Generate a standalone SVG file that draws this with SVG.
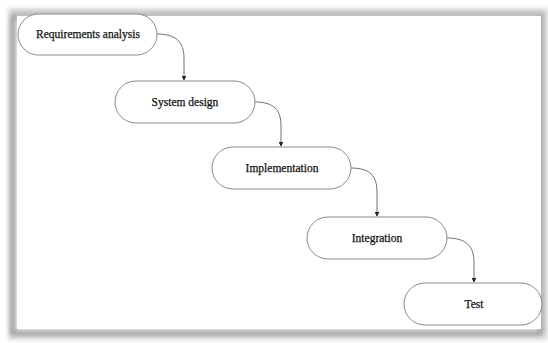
<svg xmlns="http://www.w3.org/2000/svg" width="548" height="343" viewBox="0 0 548 343">
<style>
.node rect{fill:#fff;stroke:#8a8a8a;stroke-width:1}
.node text{font-family:"Liberation Serif","Times New Roman",serif;font-size:11.5px;fill:#111;stroke:#111;stroke-width:0.25;text-anchor:middle;dominant-baseline:central}
.conn path{fill:none;stroke:#6e6e6e;stroke-width:1;marker-end:url(#arr)}
</style>
<defs>
<marker id="arr" viewBox="0 0 8 8" refX="7" refY="4" markerWidth="5" markerHeight="5" orient="auto" markerUnits="userSpaceOnUse">
<path d="M0,0 L8,4 L0,8 Z" fill="#222"/>
</marker>
<filter id="blur" x="-5%" y="-5%" width="110%" height="110%">
<feGaussianBlur stdDeviation="2"/>
</filter>
</defs>
<rect width="548" height="343" fill="#fff"/>
<g id="frame">
<rect x="11" y="11" width="534" height="326" fill="none" stroke="#dcdcdc" stroke-width="6" filter="url(#blur)"/>
<rect x="14" y="14" width="528" height="318" fill="none" stroke="#b0b0b0" stroke-width="4" filter="url(#blur)"/>
<rect x="12" y="18" width="528" height="316" fill="none" stroke="#9a9a9a" stroke-width="3" filter="url(#blur)"/>
<rect x="17" y="16" width="524" height="313" fill="#fff"/>
</g>
<g class="conn" id="connectors">
<path d="M157,34 C176,34 184,42 184,58 L184,80"/>
<path d="M255,102 C274,102 281,110 281,126 L281,146"/>
<path d="M351,168 C370,168 377,176 377,192 L377,216"/>
<path d="M447,238 C466,238 474,246 474,262 L474,282"/>
</g>
<g class="node" id="n1"><rect x="18" y="14" width="139" height="41" rx="20.5"/><text x="88" y="34">Requirements analysis</text></g>
<g class="node" id="n2"><rect x="115" y="81" width="140" height="42" rx="21"/><text x="185" y="102">System design</text></g>
<g class="node" id="n3"><rect x="212" y="147" width="139" height="42" rx="21"/><text x="282" y="168">Implementation</text></g>
<g class="node" id="n4"><rect x="307" y="217" width="140" height="42" rx="21"/><text x="377" y="238">Integration</text></g>
<g class="node" id="n5"><rect x="404" y="283" width="138" height="42" rx="21"/><text x="474" y="304">Test</text></g>
</svg>
